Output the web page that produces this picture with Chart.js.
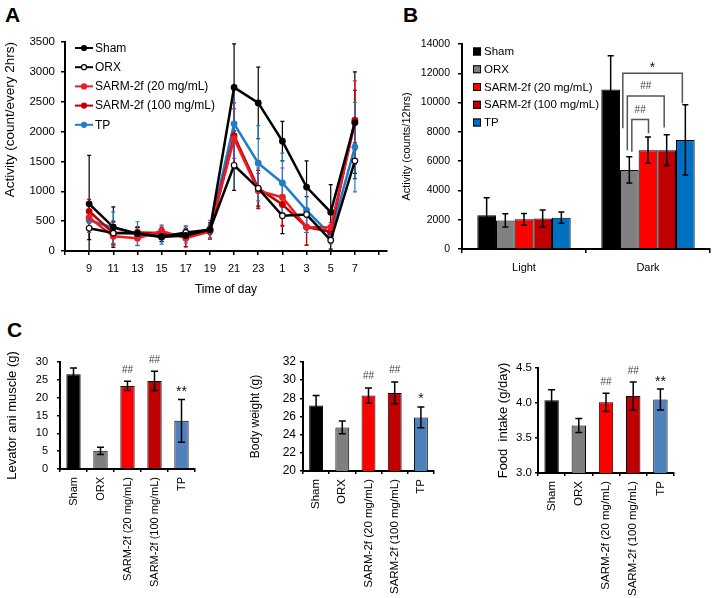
<!DOCTYPE html>
<html>
<head>
<meta charset="utf-8">
<script src="https://cdn.jsdelivr.net/npm/chart.js@4.4.1/dist/chart.umd.min.js"></script>
<style>
  body { margin: 0; background: #fff; }
  #fig { position: relative; width: 714px; height: 598px; overflow: hidden; font-family: "Liberation Sans", Arial, sans-serif; }
  .letter { position: absolute; font-size: 21px; font-weight: bold; line-height: 21px; color: #000; }
  canvas { position: absolute; }
</style>
</head>
<body>
<div id="fig">
  <div class="letter" style="left:5px;top:4px">A</div>
  <div class="letter" style="left:403px;top:4px">B</div>
  <div class="letter" style="left:7px;top:319px">C</div>
  <canvas id="chartA" width="395" height="275" style="left:0;top:25px"></canvas>
  <canvas id="chartB" width="319" height="275" style="left:395px;top:25px"></canvas>
  <canvas id="chartC1" width="240" height="258" style="left:0;top:340px"></canvas>
  <canvas id="chartC2" width="240" height="258" style="left:240px;top:340px"></canvas>
  <canvas id="chartC3" width="240" height="258" style="left:474px;top:340px"></canvas>
</div>
<script>
// groups
const groupNames = ['Sham', 'ORX', 'SARM-2f (20 mg/mL)', 'SARM-2f (100 mg/mL)', 'TP'];

// A: activity every 2 hrs
const hours = ['9', '11', '13', '15', '17', '19', '21', '23', '1', '3', '5', '7'];
const shamActivity    = [790, 400, 290, 235, 260, 355, 2740, 2480, 1840, 1070, 650, 2150];
const orxActivity     = [380, 300, 295, 240, 310, 355, 1435, 1050, 590, 610, 180, 1510];
const sarm20Activity  = [560, 245, 215, 335, 215, 325, 1880, 1010, 900, 400, 395, 2150];
const sarm100Activity = [665, 300, 310, 300, 245, 345, 1930, 1050, 780, 400, 320, 2190];
const tpActivity      = [515, 390, 290, 265, 275, 365, 2130, 1470, 1140, 680, 270, 1740];
const shamActivityErr    = [810, 340, 100, 80, 60, 60, 730, 600, 330, 440, 460, 850];
const orxActivityErr     = [190, 200, 100, 80, 70, 80, 420, 300, 300, 300, 150, 300];
const sarm20ActivityErr  = [250, 150, 120, 100, 150, 130, 500, 290, 490, 300, 80, 700];
const sarm100ActivityErr = [200, 180, 100, 90, 170, 130, 550, 340, 350, 300, 100, 500];
const tpActivityErr      = [150, 260, 200, 150, 140, 150, 580, 630, 500, 370, 150, 750];

// B: activity per 12 hrs
const phases = ['Light', 'Dark'];
const shamPhase    = [2300, 10900];
const orxPhase     = [1950, 5400];
const sarm20Phase  = [2030, 6750];
const sarm100Phase = [2080, 6750];
const tpPhase      = [2140, 7450];
const shamPhaseErr    = [1200, 2300];
const orxPhaseErr     = [450, 900];
const sarm20PhaseErr  = [400, 900];
const sarm100PhaseErr = [580, 1050];
const tpPhaseErr      = [380, 2400];
// brackets in the Dark group (dataset index from -> to)
const bracketFrom      = [1, 1, 1];
const bracketTo        = [4, 3, 2];
const bracketLevel     = [12000, 10450, 8850];
const bracketLeftEnd   = [8250, 6750, 6650];
const bracketRightEnd  = [9950, 8300, 7900];
const bracketLabels    = ['*', '##', '##'];

// C
const levator      = [26.6, 5.1, 23.3, 24.7, 13.5];
const levatorErr   = [1.7, 1.0, 1.3, 2.7, 6.0];
const levatorMarks = ['', '', '##', '##', '**'];
const bodyWeight      = [27.2, 24.8, 28.3, 28.6, 25.9];
const bodyWeightErr   = [1.1, 0.7, 0.85, 1.2, 1.15];
const bodyWeightMarks = ['', '', '##', '##', '*'];
const foodIntake      = [4.04, 3.68, 4.01, 4.10, 4.05];
const foodIntakeErr   = [0.15, 0.10, 0.13, 0.20, 0.15];
const foodIntakeMarks = ['', '', '##', '##', '**'];

const FONT = '"Liberation Sans", Arial, sans-serif';
Chart.defaults.font.family = FONT;
Chart.defaults.color = '#000';

// draws "*" / "##" centred at (x, cy)
function drawMark(ctx, text, x, cy) {
  ctx.save();
  ctx.textAlign = 'center';
  ctx.textBaseline = 'alphabetic';
  if (text.indexOf('#') >= 0) {
    ctx.font = '10px ' + FONT;
    ctx.fillStyle = '#444';
    ctx.fillText(text, x, cy + 3.5);
  } else {
    ctx.font = '14px ' + FONT;
    ctx.fillStyle = '#111';
    ctx.fillText(text, x, cy + 8.5);
  }
  ctx.restore();
}

function drawErrors(chart, o) {
  const ctx = chart.ctx, y = chart.scales.y, a = chart.chartArea;
  const marks = [];
  ctx.save();
  ctx.beginPath();
  ctx.rect(a.left, a.top - 2, a.right - a.left, a.bottom - a.top + 2);
  ctx.clip();
  chart.data.datasets.forEach((ds, i) => {
    if (!ds.errors) return;
    const meta = chart.getDatasetMeta(i);
    ctx.strokeStyle = o.color || ds.borderColor;
    ctx.lineWidth = o.width || 1.2;
    meta.data.forEach((el, j) => {
      const d = ds.data[j];
      const v = typeof d === 'object' ? d.y : d;
      const e = ds.errors[j];
      const top = y.getPixelForValue(v + e), bot = y.getPixelForValue(v - e);
      const c = o.cap || 2;
      ctx.beginPath();
      ctx.moveTo(el.x, top); ctx.lineTo(el.x, bot);
      ctx.moveTo(el.x - c, top); ctx.lineTo(el.x + c, top);
      ctx.moveTo(el.x - c, bot); ctx.lineTo(el.x + c, bot);
      ctx.stroke();
      if (ds.marks && ds.marks[j]) marks.push([ds.marks[j], el.x, top - 12]);
    });
  });
  ctx.restore();
  marks.forEach(m => drawMark(ctx, m[0], m[1], m[2]));
}

const errorBars = {
  id: 'errorBars',
  beforeDatasetsDraw(chart, args, o) { if (o.behind) drawErrors(chart, o); },
  afterDatasetsDraw(chart, args, o) { if (!o.behind) drawErrors(chart, o); }
};

const brackets = {
  id: 'brackets',
  afterDatasetsDraw(chart, args, o) {
    if (!o.from) return;
    const ctx = chart.ctx, y = chart.scales.y;
    ctx.save();
    ctx.strokeStyle = '#555';
    ctx.lineWidth = 1.5;
    o.from.forEach((f, k) => {
      const x1 = chart.getDatasetMeta(f).data[o.category].x + o.leftShift[k];
      const x2 = chart.getDatasetMeta(o.to[k]).data[o.category].x + o.rightShift[k];
      const yl = y.getPixelForValue(o.level[k]);
      ctx.beginPath();
      ctx.moveTo(x1, y.getPixelForValue(o.leftEnd[k]));
      ctx.lineTo(x1, yl);
      ctx.lineTo(x2, yl);
      ctx.lineTo(x2, y.getPixelForValue(o.rightEnd[k]));
      ctx.stroke();
      drawMark(ctx, o.labels[k], (x1 + x2) / 2, yl - 10);
    });
    ctx.restore();
  }
};

const insideLegend = {
  id: 'insideLegend',
  afterDraw(chart, args, o) {
    if (!o.kind) return;
    const ctx = chart.ctx, a = chart.chartArea;
    ctx.save();
    ctx.font = o.size + 'px ' + FONT;
    ctx.textBaseline = 'middle';
    chart.data.datasets.forEach((ds, i) => {
      const x = a.left + o.dx, y = a.top + o.dy + i * o.gap;
      if (o.kind === 'line') {
        ctx.strokeStyle = ds.borderColor;
        ctx.lineWidth = 2;
        ctx.beginPath(); ctx.moveTo(x, y); ctx.lineTo(x + 18, y); ctx.stroke();
        ctx.beginPath(); ctx.arc(x + 9, y, 2.5, 0, Math.PI * 2);
        ctx.fillStyle = ds.pointBackgroundColor; ctx.fill();
        ctx.lineWidth = 1.2; ctx.stroke();
        ctx.fillStyle = '#000';
        ctx.fillText(ds.label, x + 20, y + 0.5);
      } else {
        ctx.fillStyle = ds.backgroundColor;
        ctx.fillRect(x, y - 4, 8, 8);
        ctx.strokeStyle = '#000'; ctx.lineWidth = 1;
        ctx.strokeRect(x + 0.5, y - 3.5, 7, 7);
        ctx.fillStyle = '#000';
        ctx.fillText(ds.label, x + 11, y + 0.5);
      }
    });
    ctx.restore();
  }
};

const axisGrid = { drawOnChartArea: false, color: '#000', lineWidth: 1.5, tickLength: 4 };
const axisBorder = { color: '#000', width: 2 };

// ---------- A ----------
const lineSeries = [
  { label: groupNames[0], values: shamActivity, err: shamActivityErr, color: '#000000', fill: '#000000' },
  { label: groupNames[1], values: orxActivity, err: orxActivityErr, color: '#000000', fill: '#ffffff' },
  { label: groupNames[2], values: sarm20Activity, err: sarm20ActivityErr, color: '#ee1c25', fill: '#ee1c25' },
  { label: groupNames[3], values: sarm100Activity, err: sarm100ActivityErr, color: '#c00000', fill: '#c00000' },
  { label: groupNames[4], values: tpActivity, err: tpActivityErr, color: '#1f7cc8', fill: '#1f7cc8' }
];

new Chart(document.getElementById('chartA'), {
  type: 'line',
  data: {
    datasets: lineSeries.map(s => ({
      label: s.label,
      data: s.values.map((v, i) => ({ x: i, y: v })),
      errors: s.err,
      borderColor: s.color,
      backgroundColor: s.color,
      pointBackgroundColor: s.fill,
      pointBorderColor: s.color,
      pointBorderWidth: 1.2,
      pointRadius: 2.8,
      borderWidth: 2.5,
      tension: 0
    }))
  },
  options: {
    responsive: false,
    animation: false,
    layout: { padding: { top: 17, right: 8, left: 0, bottom: 0 } },
    scales: {
      x: {
        type: 'linear',
        min: -1,
        max: 12.33,
        afterBuildTicks: s => { s.ticks = []; for (let i = -1; i <= 12; i++) s.ticks.push({ value: i }); },
        afterFit: s => { s.height = 49; },
        ticks: { autoSkip: false, maxRotation: 0, padding: 7, font: { size: 11 }, callback: v => hours[v] || '' },
        grid: axisGrid,
        border: axisBorder,
        title: { display: true, text: 'Time of day', font: { size: 12 }, padding: { top: 0, bottom: 3 } }
      },
      y: {
        min: 0,
        max: 3500,
        afterFit: s => { s.width = 65; },
        ticks: { stepSize: 500, padding: 6, font: { size: 11.5 }, format: { useGrouping: false } },
        grid: axisGrid,
        border: axisBorder,
        title: { display: true, text: 'Activity (count/every 2hrs)', align: 'end', font: { size: 13.5 }, padding: { top: 2, bottom: 0 } }
      }
    },
    plugins: {
      legend: { display: false },
      tooltip: { enabled: false },
      errorBars: { behind: true, width: 1.2, cap: 2 },
      insideLegend: { kind: 'line', dx: 10, dy: 6, gap: 19.2, size: 12 }
    }
  },
  plugins: [errorBars, insideLegend]
});

// ---------- B ----------
const barSeries = [
  { values: shamPhase, err: shamPhaseErr, color: '#000000' },
  { values: orxPhase, err: orxPhaseErr, color: '#808080' },
  { values: sarm20Phase, err: sarm20PhaseErr, color: '#ff0000' },
  { values: sarm100Phase, err: sarm100PhaseErr, color: '#c00000' },
  { values: tpPhase, err: tpPhaseErr, color: '#0070c0' }
];

new Chart(document.getElementById('chartB'), {
  type: 'bar',
  data: {
    labels: phases,
    datasets: barSeries.map((s, i) => ({
      label: groupNames[i],
      data: s.values,
      errors: s.err,
      backgroundColor: s.color,
      borderColor: '#000',
      borderWidth: 1,
      categoryPercentage: 0.753,
      barPercentage: 1
    }))
  },
  options: {
    responsive: false,
    animation: false,
    layout: { padding: { top: 19, right: 4, left: 0, bottom: 0 } },
    scales: {
      x: {
        afterFit: s => { s.height = 51; },
        ticks: { padding: 8, font: { size: 11 } },
        grid: Object.assign({}, axisGrid, { offset: true }),
        border: axisBorder
      },
      y: {
        min: 0,
        max: 14000,
        afterFit: s => { s.width = 67; },
        ticks: { stepSize: 2000, padding: 8, font: { size: 10.5 }, format: { useGrouping: false } },
        grid: axisGrid,
        border: axisBorder,
        title: { display: true, text: 'Activity (counts/12hrs)', font: { size: 11 }, padding: { top: 5, bottom: 0 } }
      }
    },
    plugins: {
      legend: { display: false },
      tooltip: { enabled: false },
      errorBars: { color: '#000', width: 1.5, cap: 3 },
      brackets: {
        category: 1,
        from: bracketFrom, to: bracketTo, level: bracketLevel,
        leftEnd: bracketLeftEnd, rightEnd: bracketRightEnd, labels: bracketLabels,
        leftShift: [-6.5, -2, 2.5], rightShift: [-3, -2.5, 0.5]
      },
      insideLegend: { kind: 'box', dx: 11, dy: 7.5, gap: 17.75, size: 11.5 }
    }
  },
  plugins: [errorBars, brackets, insideLegend]
});

// ---------- C ----------
const cColors = ['#000000', '#7f7f7f', '#ff0000', '#c00000', '#4f81bd'];

function panelC(id, values, err, marks, cfg) {
  new Chart(document.getElementById(id), {
    type: 'bar',
    data: {
      labels: groupNames,
      datasets: [{
        data: values,
        errors: err,
        marks: marks,
        backgroundColor: cColors,
        borderColor: '#000',
        borderWidth: 1,
        categoryPercentage: 1,
        barPercentage: 0.53
      }]
    },
    options: {
      responsive: false,
      animation: false,
      layout: { padding: { top: cfg.top, right: cfg.right, left: 0, bottom: 0 } },
      scales: {
        x: {
          afterFit: s => { s.height = cfg.xh; },
          ticks: { autoSkip: false, minRotation: 90, maxRotation: 90, padding: 5, font: { size: cfg.xfont } },
          grid: Object.assign({}, axisGrid, { offset: true, tickLength: 3 }),
          border: axisBorder
        },
        y: {
          min: cfg.min,
          max: cfg.max,
          afterFit: s => { s.width = cfg.yw; },
          ticks: { stepSize: cfg.step, padding: cfg.tpad, font: { size: cfg.yfont } },
          grid: Object.assign({}, axisGrid, { tickLength: 3 }),
          border: axisBorder,
          title: { display: true, text: cfg.title, font: { size: cfg.tfont }, padding: { top: cfg.titlePad, bottom: 0 } }
        }
      },
      plugins: {
        legend: { display: false },
        tooltip: { enabled: false },
        errorBars: { color: '#000', width: 1.5, cap: 3.5 }
      }
    },
    plugins: [errorBars]
  });
}

panelC('chartC1', levator, levatorErr, levatorMarks,
  { top: 22, right: 45, xh: 129, yw: 60, min: 0, max: 30, step: 5, tpad: 9, yfont: 11, xfont: 11,
    title: 'Levator ani muscle (g)', tfont: 13, titlePad: 5 });
panelC('chartC2', bodyWeight, bodyWeightErr, bodyWeightMarks,
  { top: 22, right: 46, xh: 127, yw: 63, min: 20, max: 32, step: 2, tpad: 4, yfont: 12, xfont: 11.5,
    title: 'Body weight (g)', tfont: 12, titlePad: 8 });
panelC('chartC3', foodIntake, foodIntakeErr, foodIntakeMarks,
  { top: 28, right: 40, xh: 125, yw: 64, min: 3, max: 4.5, step: 0.5, tpad: 3, yfont: 11.5, xfont: 11.5,
    title: 'Food  intake (g/day)', tfont: 13, titlePad: 22 });
</script>
</body>
</html>
